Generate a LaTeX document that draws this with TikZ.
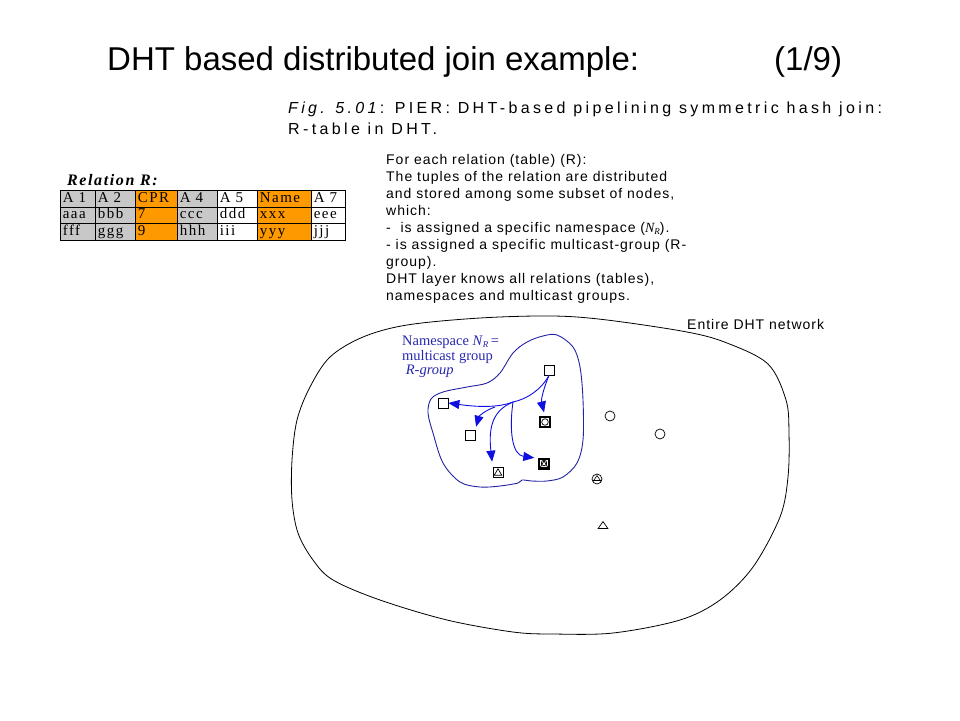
\documentclass[tikz,border=0pt]{standalone}
\usepackage{fontspec}
\setmainfont{Liberation Serif}
\setsansfont{Liberation Sans}
\newfontfamily\capfont[LetterSpace=21]{Liberation Sans}
\newfontfamily\txtfont[LetterSpace=7]{Liberation Sans}
\newfontfamily\tabfont[LetterSpace=10]{Liberation Serif}
\usetikzlibrary{arrows.meta,shapes.geometric,calc}
\definecolor{orng}{RGB}{255,153,0}
\definecolor{gry}{RGB}{200,200,200}
\definecolor{navy}{RGB}{35,35,160}
\definecolor{arrblue}{RGB}{15,15,225}
\definecolor{txtblue}{RGB}{40,40,175}
\tikzset{
  title/.style={anchor=base west,inner sep=0,font=\fontsize{33}{40}\selectfont\sffamily},
  cell/.style={draw,line width=0.6pt,anchor=north west,inner sep=0,minimum height=16.5pt,text height=10pt,text depth=2.5pt,align=left,font=\fontsize{15}{16}\selectfont\tabfont},
  sq/.style={draw,rectangle,minimum size=10pt,inner sep=0,line width=0.7pt,fill=white},
  sqk/.style={draw,rectangle,minimum size=10pt,inner sep=0,line width=1.4pt,fill=white},
  circ/.style={draw,circle,minimum size=10pt,inner sep=0,line width=0.7pt},
  arr/.style={arrblue,line width=0.9pt,-{Triangle[length=11pt,width=9pt]}},
}
\begin{document}
\begin{tikzpicture}[x=1pt,y=-1pt]
\useasboundingbox (0,0) rectangle (960,720);
\fill[white] (0,0) rectangle (960,720);

% title
\node[title] (title) at (107,70) {DHT based distributed join example:};
\node[title] (page) at (774,70) {(1/9)};

% caption
\node[anchor=base west,inner sep=0,font=\fontsize{16}{21}\selectfont\capfont] (cap1) at (288,113) {\textit{Fig. 5.01}: PIER: DHT-based pipelining symmetric hash join:};
\node[anchor=base west,inner sep=0,font=\fontsize{16}{21}\selectfont\capfont] (cap2) at (288,134) {R-table in DHT.};

% text block
\node[anchor=north west,inner sep=0,align=left,font=\fontsize{14}{17}\selectfont\txtfont] (txt) at (386,154) {For each relation (table) (R):\\
The tuples of the relation are distributed\\
and stored among some subset of nodes,\\
which:\\
-\ \ is assigned a specific namespace ({\rmfamily\itshape N}\raisebox{-2.5pt}[0pt][0pt]{\fontsize{9}{9}\selectfont\rmfamily\itshape R}).\\
- is assigned a specific multicast-group (R-\\
group).\\
DHT layer knows all relations (tables),\\
namespaces and multicast groups.};

% relation table
\node[anchor=base west,inner sep=0,font=\fontsize{16}{17}\selectfont\tabfont\bfseries\itshape] (rel) at (67,185) {Relation R:};
\def\colx{{60,95,135,177,217,257,311,345}}
\foreach \c/\fc [count=\i from 0] in {A 1/gry,A 2/gry,CPR/orng,A 4/gry,A 5/white,Name/orng,A 7/white}{
  \pgfmathsetmacro{\xa}{\colx[\i]}
  \pgfmathsetmacro{\xb}{\colx[\i+1]}
  \pgfmathsetmacro{\w}{\xb-\xa}
  \node[cell,fill=\fc,minimum width=\w pt,text width=\w pt-5pt,inner xsep=2.5pt] (h\i) at (\xa,190) {\c};
}
\foreach \c/\fc [count=\i from 0] in {aaa/gry,bbb/gry,7/orng,ccc/gry,ddd/white,xxx/orng,eee/white}{
  \pgfmathsetmacro{\xa}{\colx[\i]}
  \pgfmathsetmacro{\xb}{\colx[\i+1]}
  \pgfmathsetmacro{\w}{\xb-\xa}
  \node[cell,fill=\fc,minimum width=\w pt,text width=\w pt-5pt,inner xsep=2.5pt] (r\i) at (\xa,206.5) {\c};
}
\foreach \c/\fc [count=\i from 0] in {fff/gry,ggg/gry,9/orng,hhh/gry,iii/white,yyy/orng,jjj/white}{
  \pgfmathsetmacro{\xa}{\colx[\i]}
  \pgfmathsetmacro{\xb}{\colx[\i+1]}
  \pgfmathsetmacro{\w}{\xb-\xa}
  \node[cell,fill=\fc,minimum width=\w pt,text width=\w pt-5pt,inner xsep=2.5pt] (s\i) at (\xa,223) {\c};
}

% entire network outline
\draw[line width=0.8pt] plot[smooth cycle,tension=0.55] coordinates {
 (553,316) (607,320) (687,332) (727,343) (768,364) (786,400) (789,433) (788,477) (780,517)
 (753,567) (720,600) (680,620) (613,633) (553,634) (513,632) (447,620) (380,600) (333,580)
 (313,560) (298,533) (292,500) (292,460) (297,420) (310,387) (330,357) (363,337) (407,325) (480,318)};
\node[anchor=base west,inner sep=0,font=\fontsize{14}{16}\selectfont\txtfont] (net) at (687,329) {Entire DHT network};

% namespace region
\draw[navy,line width=0.9pt] plot[smooth cycle,tension=0.55] coordinates {
 (557,335) (573,347) (580,367) (583,400) (583,440) (577,463) (563,477) (547,481) (532,481)
 (522,480) (518,483) (500,486) (480,487) (460,482) (443,463) (433,433) (428,413) (431,399)
 (443,392) (467,387) (487,383) (500,373) (513,353) (527,342) (543,336)};
\node[anchor=north west,inner sep=0,align=left,text=txtblue,font=\fontsize{14.5}{14.3}\selectfont\rmfamily] (ns) at (402,336) {Namespace \textit{N}\raisebox{-2pt}[0pt][0pt]{\fontsize{9}{9}\selectfont\itshape R}\,=\\multicast group\\ \ \textit{R-group}};

% nodes in namespace
\node[sq] (top) at (549,370) {};
\node[sq] (lsq) at (443,403) {};
\node[sq] (msq) at (470,435) {};
\node[sqk] (csq) at (545,422) {};
\draw[line width=0.7pt] (csq.center) circle (3.3pt);
\node[sq] (tsq) at (498,472) {};
\draw[line width=0.7pt] ($(tsq.center)+(-3.8,3.2)$) -- ($(tsq.center)+(0,-3.2)$) -- ($(tsq.center)+(3.8,3.2)$) -- cycle;
\node[sqk] (dsq) at (544,464) {};
\draw[line width=0.7pt] ($(dsq.center)+(0,-1)$) circle (2.8pt);
\draw[line width=0.7pt] ($(dsq.center)+(-3.8,3.4)$) -- ($(dsq.center)+(0,-3.2)$) -- ($(dsq.center)+(3.8,3.4)$) -- cycle;

% other nodes
\node[circ] (c1) at (610,416) {};
\node[circ] (c2) at (660,434) {};
\node[circ] (ct) at (597,479) {};
\draw[line width=0.6pt] ($(ct.center)+(-4.5,1)$) -- ($(ct.center)+(4.5,1)$);
\draw[line width=0.6pt] ($(ct.center)+(-4,2.5)$) -- ($(ct.center)+(0,-3.5)$) -- ($(ct.center)+(4,2.5)$);
\node[draw,isosceles triangle,isosceles triangle apex angle=70,shape border rotate=90,minimum height=7pt,inner sep=0,line width=0.7pt] (tri) at (603,526) {};

% arrows
\coordinate (b1) at (513,402);
\coordinate (b2) at (495,407);
\draw[arr] (top.south) .. controls (541,390) and (527,399) .. (b1) .. controls (495,409) and (470,406) .. (lsq.east);
\draw[arr,shorten >=4pt] (top.south) .. controls (543,390) and (541,400) .. (csq.north);
\draw[arr,shorten >=3pt] (b2) .. controls (486,410) and (479,416) .. (msq.north east);
\draw[arr,shorten >=5pt] (b1) .. controls (494,410) and (488,425) .. (tsq.north west);
\draw[arr,shorten >=4pt] (b1) .. controls (509,430) and (512,455) .. (dsq.north west);
\end{tikzpicture}
\end{document}
